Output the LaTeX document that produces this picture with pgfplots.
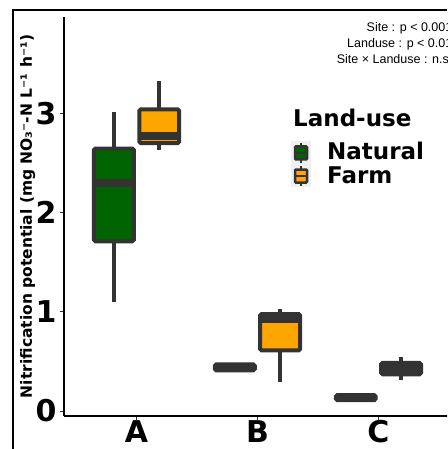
\documentclass[border=0pt]{standalone}
\usepackage{fontspec}
\setmainfont{DejaVu Sans}
\newfontfamily\annfont{Liberation Sans}
\usepackage{pgfplots}
\usepgfplotslibrary{statistics}
\pgfplotsset{compat=1.18}
\definecolor{dg}{HTML}{333333}
\definecolor{natc}{HTML}{006400}
\definecolor{farmc}{HTML}{FFA500}
\pgfplotsset{
  bx/.style={boxplot prepared={#1, box extend=0.33, whisker extend=0, draw direction=y},
    draw=dg, line width=4pt, solid, mark=none,
    boxplot/every box/.style={rounded corners=1.5pt},
    boxplot/every median/.style={line width=8pt}},
}
\begin{document}
\begin{tikzpicture}[x=1pt,y=1pt]
\useasboundingbox (0,0) rectangle (447,-449);
\clip (0,0) rectangle (447,-449);
\draw[line width=2pt] (13,-449) -- (13,-10) -- (447,-10);
\begin{axis}[
  at={(64pt,-416pt)}, anchor=south west,
  scale only axis, width=387pt, height=399pt,
  xmin=0.4, xmax=3.6, ymin=-0.05, ymax=3.97,
  axis x line*=bottom, axis y line*=left,
  axis line style={line width=2pt, black, -},
  xtick={1,2,3}, xticklabels={A,B,C},
  ytick={0,1,2,3},
  tick align=outside, major tick length=4pt,
  tick style={line width=1pt, dg},
  tick label style={font=\fontsize{30}{30}\selectfont\bfseries},
  xticklabel style={yshift=3pt},
  /pgf/number format/assume math mode=true,
  ylabel={Nitrification potential (mg NO₃⁻-N L⁻¹ h⁻¹)},
  ylabel style={font=\fontsize{15.5}{15.5}\selectfont\bfseries, at={(axis description cs:-0.094,0.5)}, anchor=center},
]
% A
\addplot[bx={draw position=0.8125, lower whisker=1.10, lower quartile=1.71, median=2.30, upper quartile=2.645, upper whisker=3.01}, fill=natc] coordinates {};
\addplot[bx={draw position=1.1875, lower whisker=2.63, lower quartile=2.70, median=2.77, upper quartile=3.04, upper whisker=3.33}, fill=farmc] coordinates {};
% B
\addplot[bx={draw position=1.8125, lower whisker=0.39, lower quartile=0.41, median=0.44, upper quartile=0.47, upper whisker=0.48}, fill=natc] coordinates {};
\addplot[bx={draw position=2.1875, lower whisker=0.29, lower quartile=0.61, median=0.93, upper quartile=0.977, upper whisker=1.03}, fill=farmc] coordinates {};
% C
\addplot[bx={draw position=2.8125, lower whisker=0.10, lower quartile=0.11, median=0.135, upper quartile=0.16, upper whisker=0.17}, fill=natc] coordinates {};
\addplot[bx={draw position=3.1875, lower whisker=0.31, lower quartile=0.37, median=0.428, upper quartile=0.485, upper whisker=0.54}, fill=farmc] coordinates {};
\end{axis}
% annotation
\node[anchor=base east, inner sep=0pt, font=\annfont\fontsize{12.5}{12.5}\selectfont] at (452.5,-31.5) {Site : p < 0.001};
\node[anchor=base east, inner sep=0pt, font=\annfont\fontsize{12.5}{12.5}\selectfont] at (452.5,-47.5) {Landuse : p < 0.01};
\node[anchor=base east, inner sep=0pt, font=\annfont\fontsize{12.5}{12.5}\selectfont] at (452.5,-63.5) {Site × Landuse : n.s.};
% legend
\node[anchor=base west, inner sep=0pt, font=\fontsize{23}{23}\selectfont\bfseries] at (293,-127) {Land-use};
\fill[black!6] (291,-141) rectangle (311,-187);
\draw[line width=2pt, dg] (301,-143) -- (301,-163);
\filldraw[fill=natc, draw=dg, line width=2.5pt, rounded corners=1pt] (295,-146.5) rectangle (307,-159.5);
\draw[line width=2.5pt, dg] (295,-153) -- (307,-153);
\draw[line width=2pt, dg] (301,-166) -- (301,-186);
\filldraw[fill=farmc, draw=dg, line width=2.5pt, rounded corners=1pt] (295,-169.5) rectangle (307,-182.5);
\draw[line width=2.5pt, dg] (295,-176) -- (307,-176);
\node[anchor=base west, inner sep=0pt, font=\fontsize{23}{23}\selectfont\bfseries] at (327,-160) {Natural};
\node[anchor=base west, inner sep=0pt, font=\fontsize{23}{23}\selectfont\bfseries] at (327,-183) {Farm};
\end{tikzpicture}
\end{document}
